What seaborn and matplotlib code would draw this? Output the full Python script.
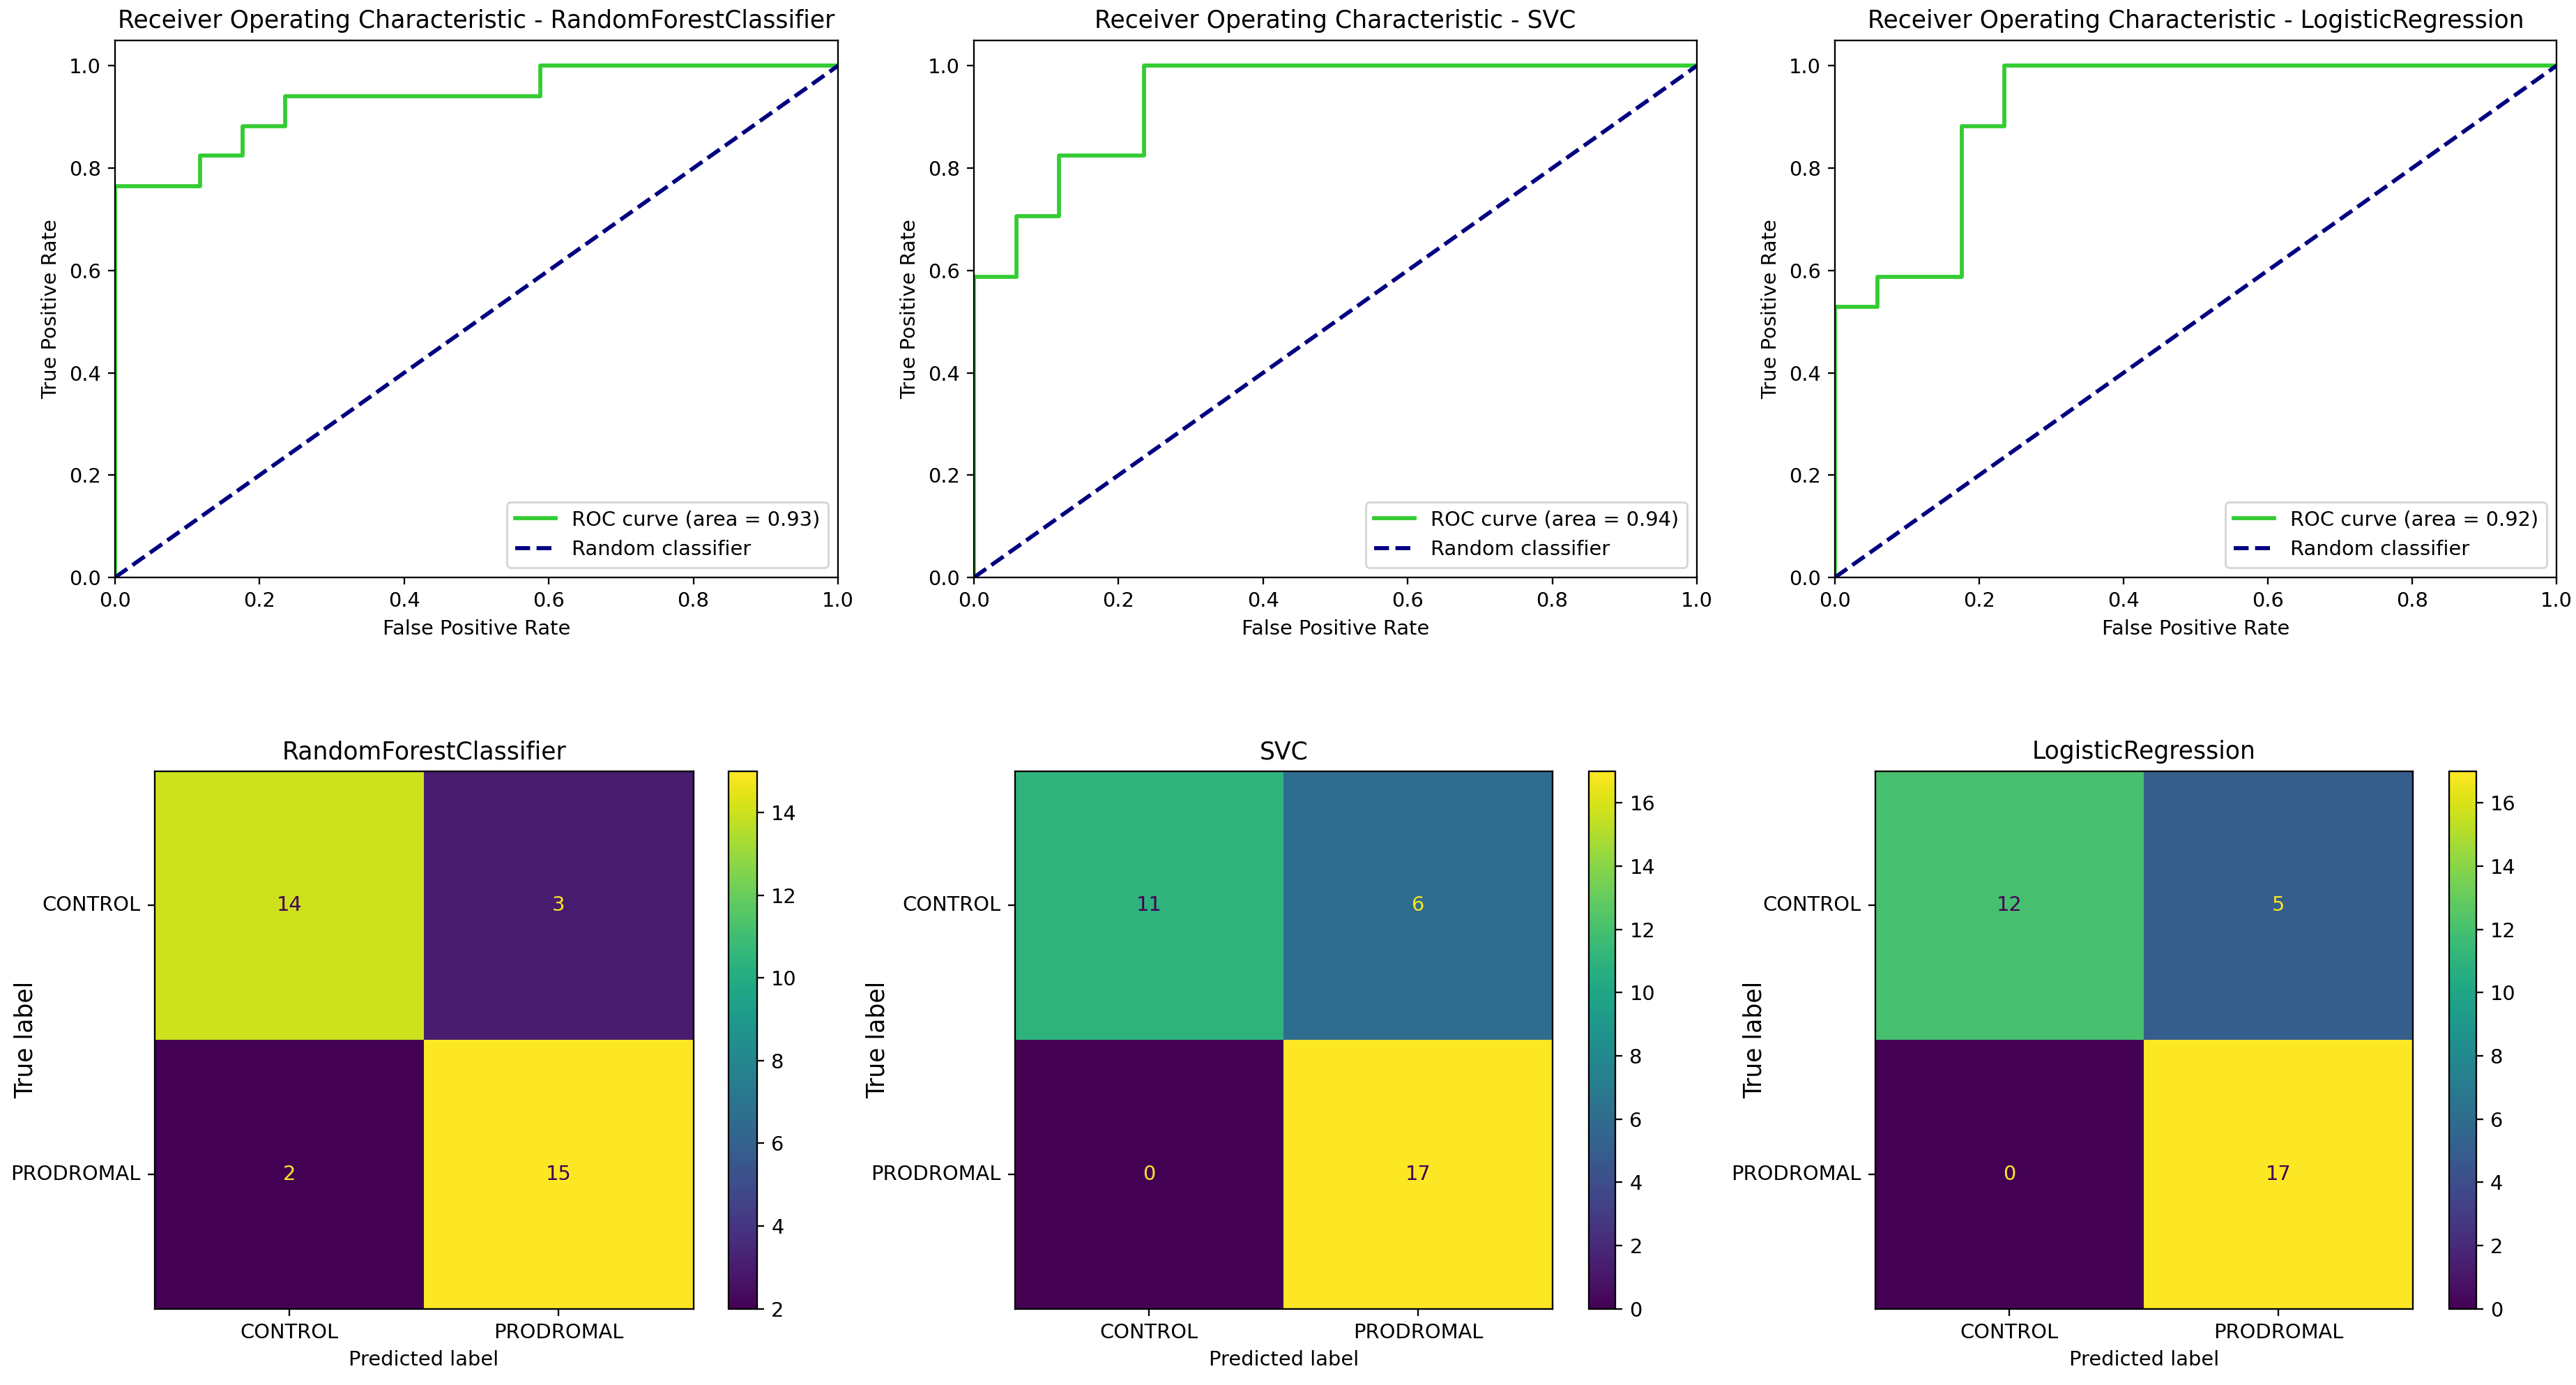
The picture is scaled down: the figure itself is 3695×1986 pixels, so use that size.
import numpy as np
import pandas as pd
import matplotlib
matplotlib.use("Agg")
import matplotlib.pyplot as plt
import seaborn as sns

# ---------------- data ----------------
models = ["RandomForestClassifier", "SVC", "LogisticRegression"]
class_labels = ["CONTROL", "PRODROMAL"]

rf_fpr = [0.0, 0.0, 0.118, 0.118, 0.176, 0.176, 0.235, 0.235, 0.588, 0.588, 1.0]
rf_tpr = [0.0, 0.765, 0.765, 0.824, 0.824, 0.882, 0.882, 0.941, 0.941, 1.0, 1.0]
svc_fpr = [0.0, 0.0, 0.059, 0.059, 0.118, 0.118, 0.235, 0.235, 1.0]
svc_tpr = [0.0, 0.588, 0.588, 0.706, 0.706, 0.824, 0.824, 1.0, 1.0]
lr_fpr = [0.0, 0.0, 0.059, 0.059, 0.176, 0.176, 0.235, 0.235, 1.0]
lr_tpr = [0.0, 0.529, 0.529, 0.588, 0.588, 0.882, 0.882, 1.0, 1.0]
auc_values = [0.93, 0.94, 0.92]

rf_cm = [[14, 3], [2, 15]]
svc_cm = [[11, 6], [0, 17]]
lr_cm = [[12, 5], [0, 17]]

diag_x = [0.0, 1.0]
diag_y = [0.0, 1.0]

roc_fprs = [rf_fpr, svc_fpr, lr_fpr]
roc_tprs = [rf_tpr, svc_tpr, lr_tpr]
cms = [rf_cm, svc_cm, lr_cm]

# ---------------- layout (figure pixels) ----------------
W, H = 3695, 1986
DPI = 208
fig = plt.figure(figsize=(W / DPI, H / DPI), dpi=DPI)

def frac(x0, y0, x1, y1):
    return [x0 / W, 1 - y1 / H, (x1 - x0) / W, (y1 - y0) / H]

roc_boxes = [(165, 57.6, 1202, 828), (1397, 57.6, 2434, 828), (2632, 57.6, 3667, 828)]
hm_boxes = [(221.5, 1105.8, 994.5, 1876.6), (1455.5, 1105.8, 2226.8, 1876.6),
            (2689.5, 1105.8, 3460.8, 1876.6)]
cb_boxes = [(1045, 1105.8, 1086, 1876.6), (2278.7, 1105.8, 2317.2, 1876.6),
            (3512.8, 1105.8, 3551.5, 1876.6)]
ylabel_x = [-0.217, -0.233, -0.202]

viridis = plt.get_cmap("viridis")

for i, m in enumerate(models):
    # ROC
    ax = fig.add_axes(frac(*roc_boxes[i]))
    df = pd.DataFrame({"fpr": roc_fprs[i], "tpr": roc_tprs[i]})
    sns.lineplot(data=df, x="fpr", y="tpr", sort=False, estimator=None, ax=ax,
                 color="#33cc33", lw=2, label=f"ROC curve (area = {auc_values[i]:.2f})")
    sns.lineplot(x=diag_x, y=diag_y, ax=ax, color="navy", lw=2, linestyle="--",
                 label="Random classifier")
    ax.set_xlim(0.0, 1.0)
    ax.set_ylim(0.0, 1.05)
    ax.set_xlabel("False Positive Rate")
    ax.set_ylabel("True Positive Rate")
    ax.set_title(f"Receiver Operating Characteristic - {m}")
    ax.legend(loc="lower right")

    # Confusion matrix
    hax = fig.add_axes(frac(*hm_boxes[i]))
    cax = fig.add_axes(frac(*cb_boxes[i]))
    cm = np.array(cms[i])
    sns.heatmap(pd.DataFrame(cm, index=class_labels, columns=class_labels),
                ax=hax, cbar_ax=cax, cmap="viridis", annot=True, fmt="d",
                annot_kws={"fontsize": 10}, square=False)
    vmin, vmax = cm.min(), cm.max()
    thresh = (vmin + vmax) / 2.0
    for t in hax.texts:
        v = float(t.get_text())
        t.set_color(viridis(0.0) if v > thresh else viridis(1.0))
    for s in hax.spines.values():
        s.set_visible(True)
        s.set_linewidth(0.8)
        s.set_color("black")
    hax.tick_params(axis="both", length=3.5, width=0.8)
    hax.set_yticklabels(class_labels, rotation=0, va="center")
    hax.set_xticklabels(class_labels, rotation=0)
    hax.set_xlabel("Predicted label", fontsize=10)
    hax.set_ylabel("True label", fontsize=12)
    hax.yaxis.set_label_coords(ylabel_x[i], 0.5)
    hax.set_title(m, fontsize=12)
    cb = hax.collections[0].colorbar
    cb.outline.set_visible(True)
    cb.outline.set_linewidth(0.8)
    cb.outline.set_edgecolor("black")
    cax.tick_params(labelsize=10, length=3.5, width=0.8)

fig.savefig("out.png", dpi=DPI)
